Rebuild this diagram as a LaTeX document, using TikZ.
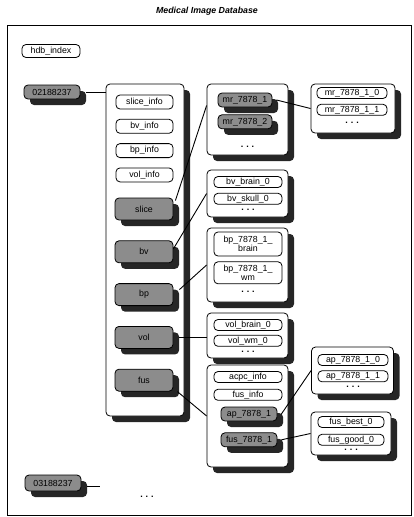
\documentclass[tikz,border=0pt]{standalone}
\usepackage{fontspec}
\setmainfont{Liberation Sans}
\usetikzlibrary{positioning,shadows}

\begin{document}
\begin{tikzpicture}[
  x=1pt, y=-1pt, font=\fontsize{8.8}{9.5}\selectfont, line width=0.8pt,
  shadowed/.style={general shadow={fill=black!85, shadow xshift=6pt, shadow yshift=-6pt}},
  holder/.style={draw, rounded corners=4pt, fill=white, shadowed, inner sep=0pt},
  field/.style={draw, rounded corners=4pt, fill=white, minimum height=11pt, inner sep=1pt},
  colfield/.style={field, minimum width=57pt, minimum height=14pt},
  subfield/.style={field, minimum width=68pt},
  listfield/.style={field, minimum width=70pt},
  entry/.style={draw, rounded corners=4pt, fill=black!45, shadowed, inner sep=1pt},
  colentry/.style={entry, minimum width=58pt, minimum height=22pt},
  subentry/.style={entry, minimum width=54pt, minimum height=14pt},
  more/.style={inner sep=0pt, font=\bfseries\fontsize{9}{9}\selectfont},
  link/.style={line width=0.9pt},
]
  \useasboundingbox (0,0) rectangle (413,517);
  \node[font=\bfseries\itshape\fontsize{8.8}{9}\selectfont] (title) at (207,11) {Medical Image Database};
  \node[draw, line width=0.9pt, minimum width=404pt, minimum height=490pt, inner sep=0pt] (frame) at (209,270) {};

  \node[field, minimum width=58pt, minimum height=13pt] (hdb) at (51,51) {hdb\_index};
  \node[entry, minimum width=56pt, minimum height=14pt] (idone) at (52,92) {02188237};
  \node[entry, minimum width=56pt, minimum height=16pt] (idtwo) at (53,483) {03188237};
  \coordinate (idtwoend) at (100,486);
  \node[more] (idmore) at (147,497) {.\hspace{3pt}.\hspace{3pt}.};

  % patient table
  \node[holder, minimum width=78pt, minimum height=332pt] (tbl) at (145,250) {};
  \node[colfield] (sliceinfo) at (144.5,102) {slice\_info};
  \node[colfield, below=9.5pt of sliceinfo] (bvinfo) {bv\_info};
  \node[colfield, below=9.5pt of bvinfo] (bpinfo) {bp\_info};
  \node[colfield, below=9.5pt of bpinfo] (volinfo) {vol\_info};
  \node[colentry] (slice) at (144,209) {slice};
  \node[colentry, below=20pt of slice] (bv) {bv};
  \node[colentry, below=20pt of bv] (bp) {bp};
  \node[colentry, below=20pt of bp] (vol) {vol};
  \node[colentry, below=20pt of vol] (fus) {fus};

  % second level
  \node[holder, minimum width=81pt, minimum height=71pt] (mrset) at (247.5,119.5) {};
  \node[subentry] (mrone) at (245,100) {mr\_7878\_1};
  \node[subentry, below=7pt of mrone] (mrtwo) {mr\_7878\_2};
  \node[more] at (247.5,147) {.\hspace{3pt}.\hspace{3pt}.};

  \node[holder, minimum width=81pt, minimum height=47pt] (bvset) at (247.5,193.5) {};
  \node[subfield] (bvbrain) at (248,182) {bv\_brain\_0};
  \node[subfield, below=5pt of bvbrain] (bvskull) {bv\_skull\_0};
  \node[more] at (248,210) {.\hspace{3pt}.\hspace{3pt}.};

  \node[holder, minimum width=81pt, minimum height=74pt] (bpset) at (247.5,265) {};
  \node[subfield, align=center, minimum height=24pt, inner sep=0pt] (bpbrain) at (248,244) {bp\_7878\_1\_\\brain};
  \node[subfield, align=center, minimum height=22pt, inner sep=0pt, below=5pt of bpbrain] (bpwm) {bp\_7878\_1\_\\wm};
  \node[more] at (248,292) {.\hspace{3pt}.\hspace{3pt}.};

  \node[holder, minimum width=81pt, minimum height=45pt] (volset) at (247.5,335.5) {};
  \node[subfield] (volbrain) at (248,325) {vol\_brain\_0};
  \node[subfield, below=4pt of volbrain] (volwm) {vol\_wm\_0};
  \node[more] at (248,352) {.\hspace{3pt}.\hspace{3pt}.};

  \node[holder, minimum width=81pt, minimum height=102pt] (fusset) at (247.5,416) {};
  \node[subfield] (acpc) at (248,377) {acpc\_info};
  \node[subfield, below=6pt of acpc] (fusinfo) {fus\_info};
  \node[subentry, minimum width=56pt] (apone) at (249,414) {ap\_7878\_1};
  \node[subentry, minimum width=56pt, below=11pt of apone] (fusone) {fus\_7878\_1};

  % third level
  \node[holder, minimum width=84pt, minimum height=49pt] (mrlist) at (353,108.5) {};
  \node[listfield] (mrzero) at (352,93) {mr\_7878\_1\_0};
  \node[listfield, below=5pt of mrzero] (mrfirst) {mr\_7878\_1\_1};
  \node[more] at (352,123) {.\hspace{3pt}.\hspace{3pt}.};

  \node[holder, minimum width=82pt, minimum height=47pt] (aplist) at (352.5,370.5) {};
  \node[listfield] (apzero) at (353,360) {ap\_7878\_1\_0};
  \node[listfield, below=4.5pt of apzero] (apfirst) {ap\_7878\_1\_1};
  \node[more] at (353,387) {.\hspace{3pt}.\hspace{3pt}.};

  \node[holder, minimum width=80pt, minimum height=43pt] (fuslist) at (351,433.5) {};
  \node[listfield, minimum width=66pt] (fusbest) at (351,422) {fus\_best\_0};
  \node[listfield, minimum width=66pt, below=6pt of fusbest] (fusgood) {fus\_good\_0};
  \node[more] at (351,450) {.\hspace{3pt}.\hspace{3pt}.};

  \draw[link] ([xshift=6pt]idone.east) -- (idone.east -| tbl.west);
  \draw[link] ([xshift=6pt,yshift=-3pt]idtwo.east) -- (idtwoend);
  \draw[link] ([xshift=2pt,yshift=-3pt]slice.north east) -- ([yshift=14pt]mrset.west);
  \draw[link] ([yshift=3pt]bv.east) -- (bvset.west);
  \draw[link] ([xshift=6pt,yshift=5pt]bp.east) -- (bpset.west);
  \draw[link] ([xshift=6pt]vol.east) -- (vol.east -| volset.west);
  \draw[link] ([xshift=4pt]fus.south east) -- (fusset.west);
  \draw[link] ([xshift=4pt]mrone.east) -- (mrlist.west);
  \draw[link] ([xshift=4pt]apone.east) -- (aplist.west);
  \draw[link] ([xshift=4pt]fusone.east) -- (fuslist.west);
\end{tikzpicture}
\end{document}
